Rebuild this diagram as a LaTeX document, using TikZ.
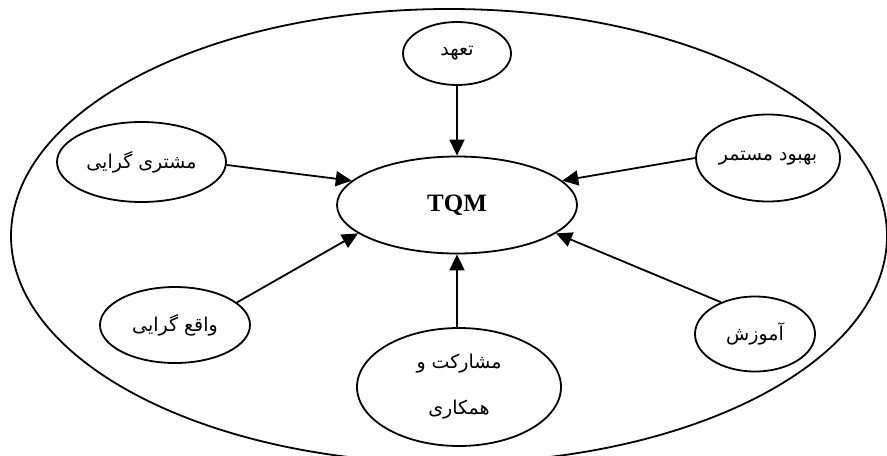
\documentclass[tikz,border=0pt]{standalone}
\usepackage{fontspec}
\setmainfont{Liberation Serif}
\newfontfamily\farsifont[Script=Arabic]{DejaVu Sans}
\TeXXeTstate=1
\usetikzlibrary{shapes.geometric,arrows.meta}

\tikzset{
    bubble/.style={draw, ellipse, line width=0.9pt, inner sep=0pt, align=center,
        font=\farsifont\fontsize{9.5}{23}\selectfont},
    feed/.style={-{Triangle[length=8pt,width=7.5pt]}, line width=0.9pt},
}

\begin{document}
\begin{tikzpicture}[x=0.5pt, y=-0.5pt]
    \useasboundingbox (0,0) rectangle (887,455);

    % outer frame
    \node[bubble, minimum width=438pt, minimum height=227pt] (frame) at (449,236) {};

    % centre
    \node[bubble, minimum width=120pt, minimum height=48.5pt,
        font=\bfseries\fontsize{12.5}{15}\selectfont] (tqm) at (457,205) {TQM};

    % pillars
    \node[bubble, minimum width=54pt, minimum height=31.5pt] (tahod) at (457,53.5) {\beginR تعهد\endR};
    \node[bubble, minimum width=84.5pt, minimum height=40pt] (moshtari) at (141.5,162) {\beginR مشتری گرایی\endR};
    \node[bubble, minimum width=72pt, minimum height=43.5pt] (behbood) at (768,158) {\beginR بهبود مستمر\endR};
    \node[bubble, minimum width=75pt, minimum height=38pt] (vaghe) at (175,325) {\beginR واقع گرایی\endR};
    \node[bubble, minimum width=60pt, minimum height=37.5pt] (amoozesh) at (755,334) {\beginR آموزش\endR};
    \node[bubble, minimum width=102pt, minimum height=59pt] (mosharekat) at (459,387)
        {\beginR مشارکت و\endR\\\beginR همکاری\endR};

    % arrows into TQM
    \draw[feed] (tahod.south) -- (tqm.north);
    \draw[feed] (moshtari.358) -- (tqm.167);
    \draw[feed] (behbood.180) -- (tqm.13);
    \draw[feed] (vaghe.20) -- (tqm.196);
    \draw[feed] (amoozesh.137) -- (tqm.344);
    \draw[feed] (mosharekat.north -| tqm.south) -- (tqm.south);
\end{tikzpicture}
\end{document}
